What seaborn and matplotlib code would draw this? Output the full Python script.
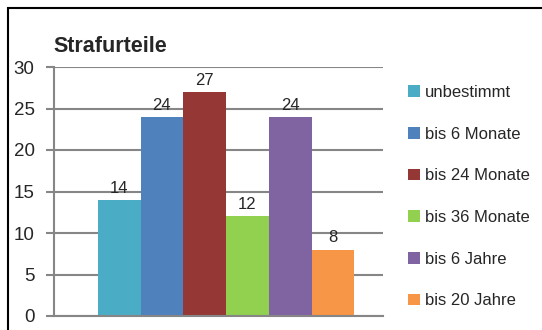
import matplotlib
matplotlib.use("Agg")
import matplotlib.pyplot as plt
import seaborn as sns
import pandas as pd
from matplotlib.patches import Rectangle

categories = ["unbestimmt", "bis 6 Monate", "bis 24 Monate", "bis 36 Monate", "bis 6 Jahre", "bis 20 Jahre"]
values = [14, 24, 27, 12, 24, 8]
colors = ["#4BACC6", "#4F81BD", "#953735", "#92D050", "#8064A2", "#F79646"]
yticks = [0, 5, 10, 15, 20, 25, 30]
title = "Strafurteile"

sns.set_theme(style="white")
plt.rcParams["font.family"] = ["Liberation Sans", "DejaVu Sans"]

df = pd.DataFrame({"grp": [""] * len(categories), "Kategorie": categories, "Wert": values})

fig = plt.figure(figsize=(5.42, 3.30), dpi=100)
ax = fig.add_axes([54 / 542, 1 - 316 / 330, (383 - 54) / 542, (316 - 67) / 330])

sns.barplot(data=df, x="grp", y="Wert", hue="Kategorie", hue_order=categories,
            palette=colors, width=0.78, saturation=1, ax=ax, legend=True,
            linewidth=0, edgecolor="none")

for c in ax.containers:
    ax.bar_label(c, fmt="%d", fontsize=12, padding=3)

ax.set_xlim(-0.523, 0.477)
ax.set_ylim(0, 30)
ax.set_yticks(yticks)
ax.set_yticklabels([str(t) for t in yticks], fontsize=13.5)
ax.set_xticks([])
ax.set_xlabel("")
ax.set_ylabel("")
ax.yaxis.grid(True, color="#868686", linewidth=1.5)
ax.set_axisbelow(True)
for s in ["top", "right"]:
    ax.spines[s].set_visible(False)
ax.spines["left"].set_color("#868686")
ax.spines["left"].set_linewidth(1.5)
ax.spines["bottom"].set_color("#868686")
ax.spines["bottom"].set_linewidth(1.5)
ax.tick_params(axis="y", left=True, length=6, width=1.5, color="#868686", pad=8)

leg = ax.legend(loc="upper left", bbox_to_anchor=(408 / 542, 1 - 85 / 330),
                bbox_transform=fig.transFigure, frameon=False, fontsize=12,
                handlelength=0.7, handleheight=0.7, handletextpad=0.3,
                labelspacing=1.6, borderaxespad=0, borderpad=0)

fig.text(53 / 542, 1 - 52 / 330, title, fontsize=15.5, fontweight="bold", ha="left", va="baseline")

fig.patches.append(Rectangle((8 / 542, -0.1), 1.2, 1 - 8 / 330 + 0.1,
                             transform=fig.transFigure, fill=False,
                             edgecolor="black", linewidth=1.5, zorder=10))

fig.savefig("out.png", dpi=100)
